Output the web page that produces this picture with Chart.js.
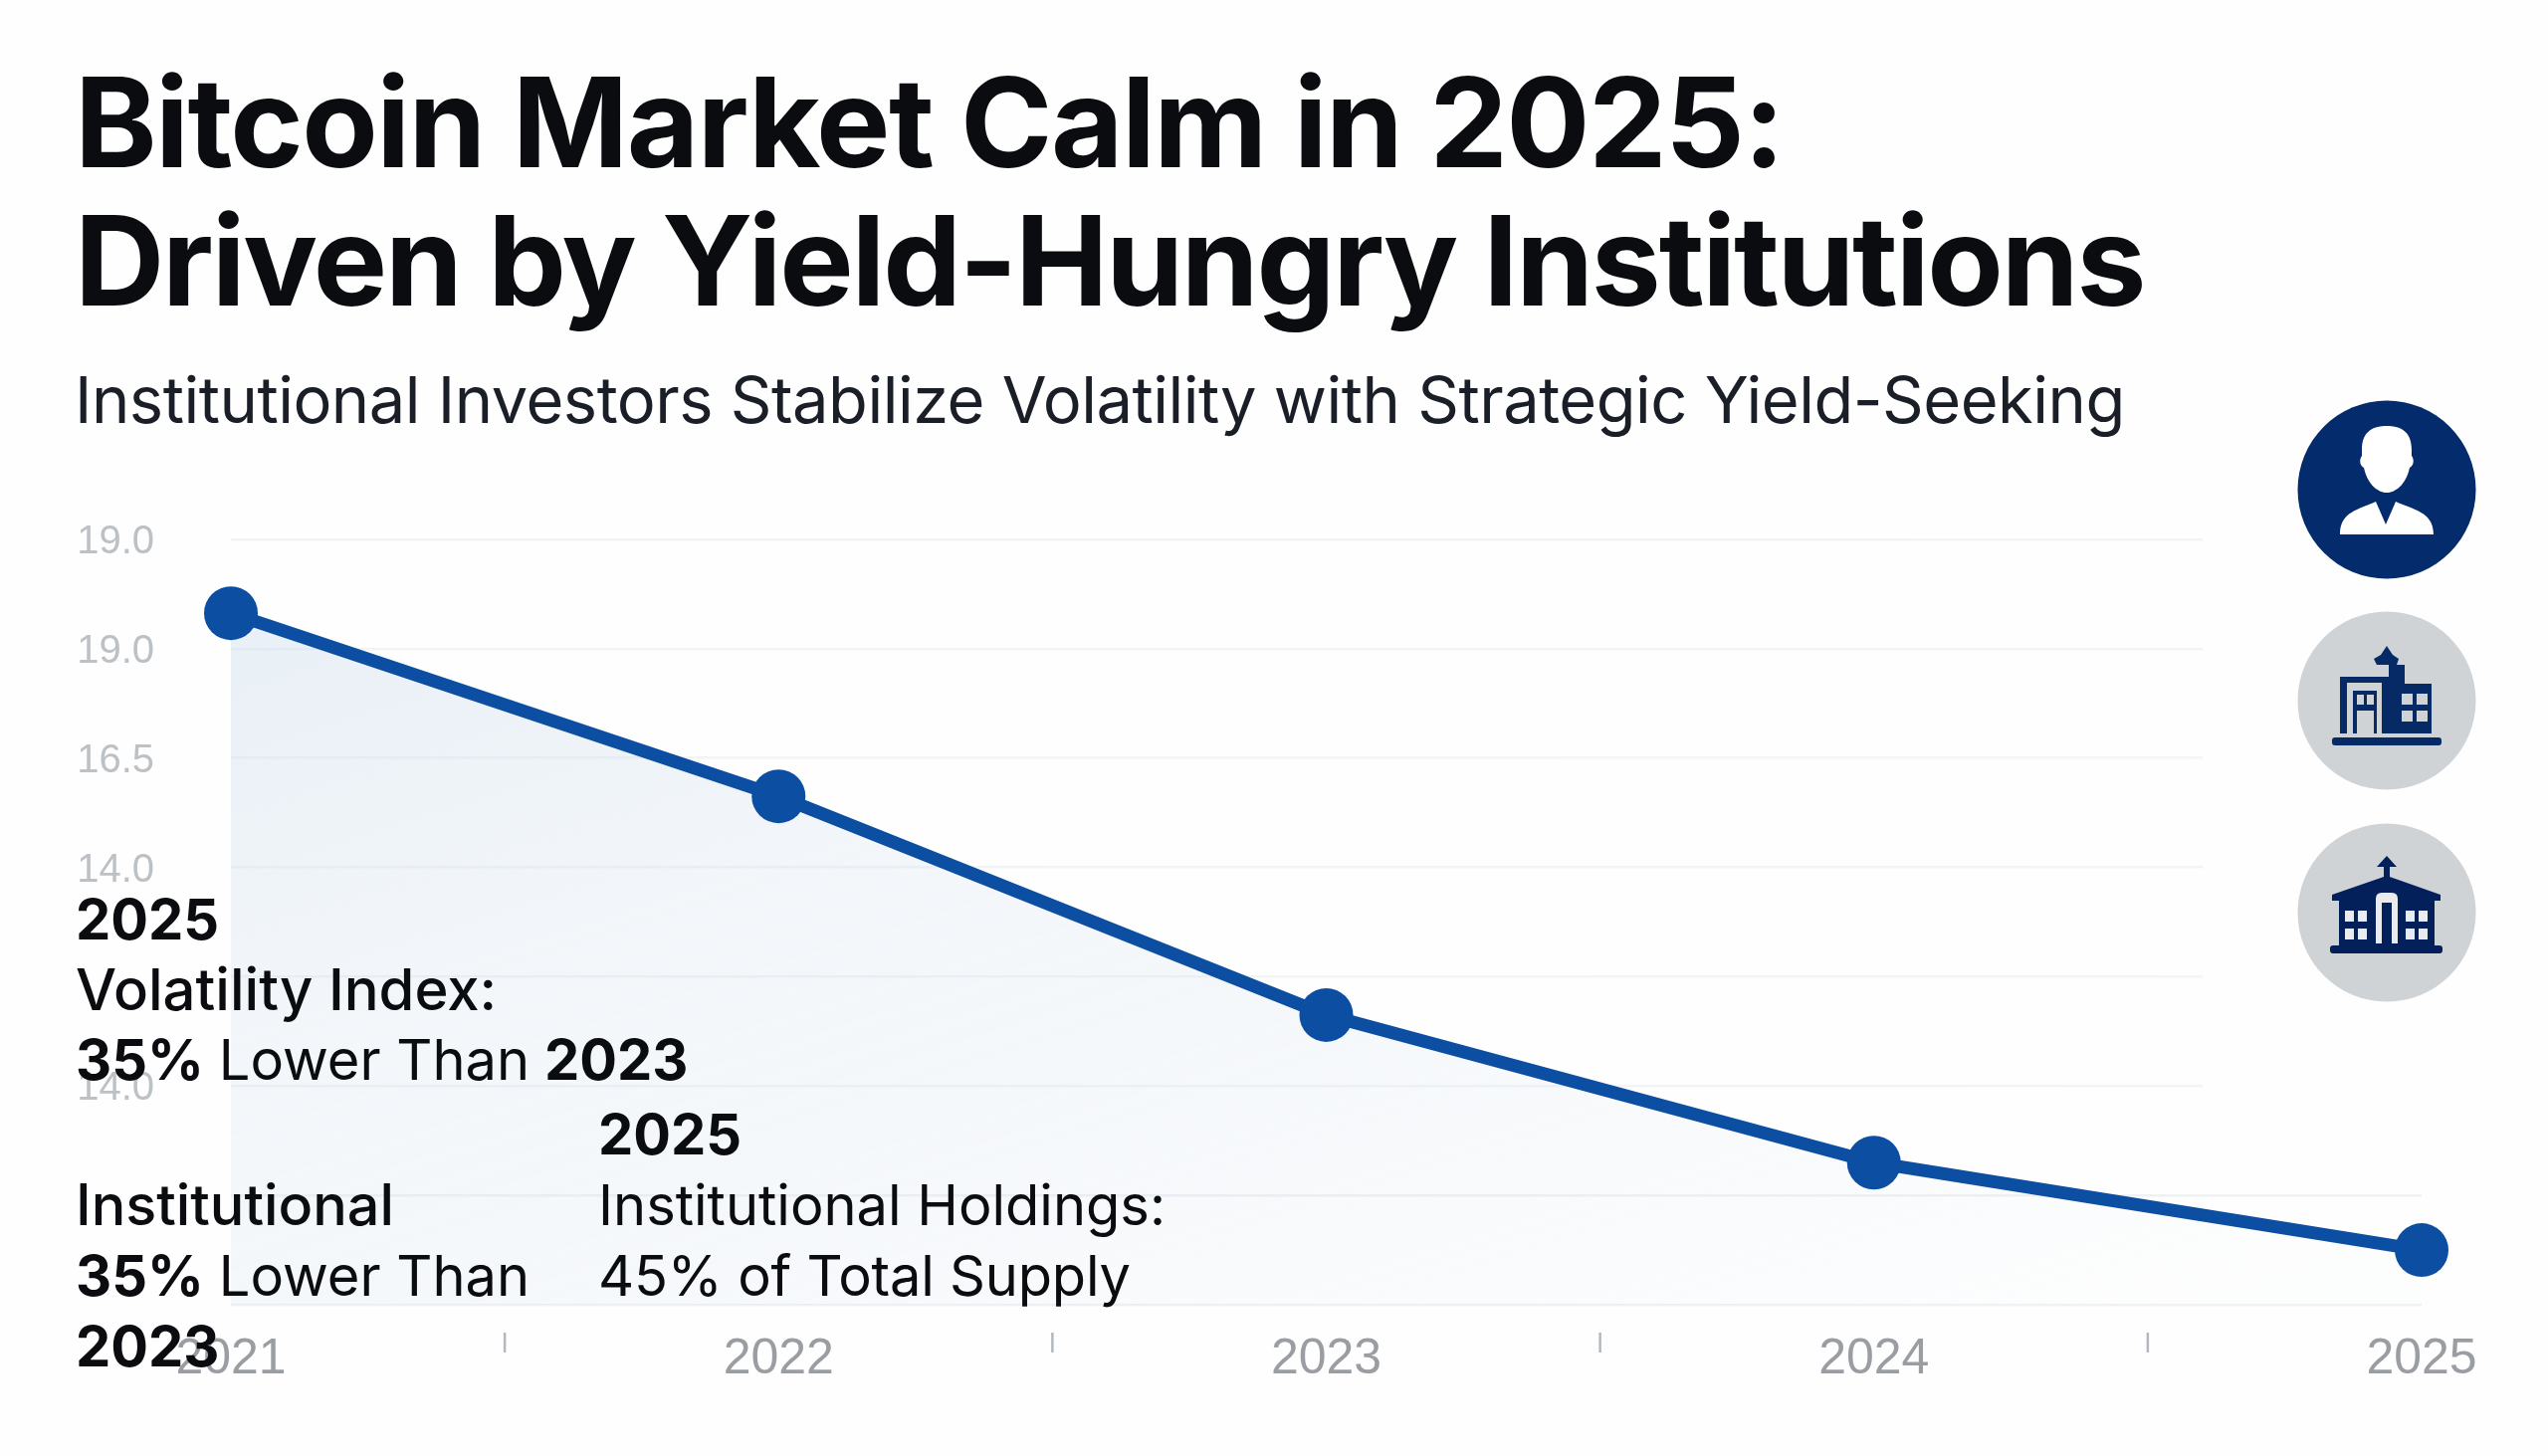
<!DOCTYPE html>
<html>
<head>
<meta charset="utf-8">
<title>Bitcoin Market Calm in 2025</title>
<script src="https://cdn.jsdelivr.net/npm/chart.js@4"></script>
<style>
    html, body { margin: 0; padding: 0; background: #fefefe; }
    #page { position: relative; width: 2560px; height: 1463px; overflow: hidden; background: #fefefe; font-family: Inter, sans-serif; color: #0a0c10; }
    canvas { position: absolute; left: 0; top: 0; }
    .txt { position: absolute; white-space: nowrap; line-height: 1; }
    .title { font-size: 125px; font-weight: 700; left: 75px; }
    .sub { font-size: 65px; font-weight: 400; left: 75px; letter-spacing: -0.5px; color: #1a1e26; }
    .note { font-size: 56px; font-weight: 500; }
    .note b { font-weight: 700; }
    .icon { position: absolute; left: 2308px; width: 180px; height: 180px; }
</style>
</head>
<body>
<div id="page">
    <canvas id="chart" width="2560" height="1463"></canvas>

    <div class="txt title" style="top: 60px; letter-spacing: -1.6px;">Bitcoin Market Calm in 2025:</div>
    <div class="txt title" style="top: 199px; letter-spacing: -2.2px;">Driven by Yield-Hungry Institutions</div>
    <div class="txt sub" style="top: 369px;">Institutional Investors Stabilize Volatility with Strategic Yield-Seeking</div>

    <div class="txt note" style="left: 76px; top: 896px;"><b>2025</b></div>
    <div class="txt note" style="left: 76px; top: 965px; font-size: 58px;">Volatility Index:</div>
    <div class="txt note" style="left: 76px; top: 1037px;"><b>35%</b> <span style="font-weight:400">Lower Than</span> <b>2023</b></div>

    <div class="txt note" style="left: 601px; top: 1112px;"><b>2025</b></div>
    <div class="txt note" style="left: 601px; top: 1183px; font-weight:400">Institutional Holdings:</div>
    <div class="txt note" style="left: 601px; top: 1254px; font-weight:400; letter-spacing: -0.2px;">45% of Total Supply</div>

    <div class="txt note" style="left: 76px; top: 1182px; font-size: 57.5px;">Institutional</div>
    <div class="txt note" style="left: 76px; top: 1254px;"><b>35%</b> <span style="font-weight:400">Lower Than</span></div>
    <div class="txt note" style="left: 76px; top: 1325px;"><b>2023</b></div>

    <!-- investor -->
    <svg class="icon" style="top: 402px;" viewBox="0 0 180 180">
        <circle cx="90" cy="90" r="89.5" fill="#042b6c"/>
        <path d="M65 50 C65 30 78 26 90 26 C102 26 115 30 115 50 L115 56 C118 60 117 66 113 68 C109 86 98 93 90 93 C82 93 71 86 67 68 C63 66 62 60 65 56 Z" fill="#fff"/>
        <path d="M43 135 C43 112 62 110 79 102 L89 125 L99 102 C116 110 137 112 137 135 Z" fill="#fff"/>
    </svg>
    <!-- office building -->
    <svg class="icon" style="top: 614px;" viewBox="0 0 180 180">
        <circle cx="90" cy="90" r="89.5" fill="#d0d3d6"/>
        <g fill="#052a66">
            <path d="M77 48 L84 44 L90 35 L96 44 L102 48 L100 54 L80 54 Z"/>
            <rect x="92" y="54" width="16" height="69"/>
            <rect x="98" y="73" width="37" height="50"/>
            <rect x="43" y="66" width="49" height="57"/>
            <rect x="35" y="127" width="110" height="8" rx="3"/>
        </g>
        <g fill="#d0d3d6">
            <rect x="50" y="72" width="35" height="51"/>
            <rect x="105" y="83" width="11" height="11"/><rect x="120" y="83" width="11" height="11"/>
            <rect x="105" y="100" width="11" height="11"/><rect x="120" y="100" width="11" height="11"/>
        </g>
        <rect x="56" y="80" width="24" height="43" fill="#052a66"/>
        <g fill="#d0d3d6">
            <rect x="60" y="84" width="7" height="10"/><rect x="70" y="84" width="7" height="10"/>
            <rect x="60" y="100" width="17" height="23"/>
        </g>
    </svg>
    <!-- bank building -->
    <svg class="icon" style="top: 827px;" viewBox="0 0 180 180">
        <circle cx="90" cy="90" r="89.5" fill="#d0d3d6"/>
        <g fill="#04205a">
            <path d="M80 44 L90 33 L100 44 L93 44 L93 54 L144 72 L144 78 L138 78 L138 125 L42 125 L42 78 L35 78 L35 72 L87 54 L87 44 Z"/>
            <rect x="33" y="123" width="113" height="8" rx="3"/>
        </g>
        <g fill="#e9ebee">
            <rect x="48" y="88" width="9" height="11"/><rect x="61" y="88" width="9" height="11"/>
            <rect x="48" y="106" width="9" height="11"/><rect x="61" y="106" width="9" height="11"/>
            <rect x="109" y="88" width="9" height="11"/><rect x="122" y="88" width="9" height="11"/>
            <rect x="109" y="106" width="9" height="11"/><rect x="122" y="106" width="9" height="11"/>
            <path d="M79 121 L79 76 Q79 70 85 70 L95 70 Q101 70 101 76 L101 121 L95 121 L95 80 L85 80 L85 121 Z"/>
        </g>
    </svg>
</div>

<script>
// --- Data ---
const years = ['2021', '2022', '2023', '2024', '2025'];
const volatility = [17.65, 14.3, 10.3, 7.6, 6.0];
const yTicks = [19, 17, 15, 13, 11, 9, 7, 5];
const yTickLabels = ['19.0', '19.0', '16.5', '14.0', '', '14.0', '', ''];

// small marks half way between the year labels
const midMarks = {
    id: 'midMarks',
    afterDraw(chart) {
        const { ctx, scales: { x } } = chart;
        ctx.save();
        ctx.strokeStyle = '#b4b8bc';
        ctx.lineWidth = 2.5;
        for (let i = 0; i < years.length - 1; i++) {
            const px = (x.getPixelForValue(i) + x.getPixelForValue(i + 1)) / 2;
            ctx.beginPath();
            ctx.moveTo(px, chart.chartArea.bottom + 28);
            ctx.lineTo(px, chart.chartArea.bottom + 48);
            ctx.stroke();
        }
        ctx.restore();
    }
};

// fill is strongest top left and fades down and to the right
function areaFill(ctx) {
    const area = ctx.chart.chartArea;
    if (!area) return 'transparent';
    const g = ctx.chart.ctx.createLinearGradient(232, 616, 607, 1804);
    g.addColorStop(0, 'rgba(198,216,234,0.38)');
    g.addColorStop(0.33, 'rgba(198,216,234,0.2)');
    g.addColorStop(0.6, 'rgba(198,216,234,0.15)');
    g.addColorStop(0.85, 'rgba(198,216,234,0.07)');
    g.addColorStop(1, 'rgba(198,216,234,0.02)');
    return g;
}

// upper grid lines stop short of the last point, the two lowest run all the way
function gridColor(ctx) {
    const area = ctx.chart.chartArea;
    if (!area || ctx.tick.value < 9) return '#eff1f3';
    const g = ctx.chart.ctx.createLinearGradient(area.left, 0, area.right, 0);
    const stop = (2213 - area.left) / (area.right - area.left);
    g.addColorStop(0, '#f1f3f5');
    g.addColorStop(stop, '#f3f4f5');
    g.addColorStop(stop, 'rgba(255,255,255,0)');
    g.addColorStop(1, 'rgba(255,255,255,0)');
    return g;
}

new Chart(document.getElementById('chart'), {
    type: 'line',
    plugins: [midMarks],
    data: {
        labels: years,
        datasets: [{
            data: volatility,
            borderColor: '#0b4ea2',
            borderWidth: 13,
            pointRadius: 27,
            pointBackgroundColor: '#0b4ea2',
            pointBorderWidth: 0,
            tension: 0,
            clip: false,
            fill: 'start',
            backgroundColor: areaFill
        }]
    },
    options: {
        responsive: false,
        animation: false,
        layout: { padding: { left: 78, right: 127, top: 542, bottom: 0 } },
        plugins: { legend: { display: false }, tooltip: { enabled: false } },
        scales: {
            x: {
                afterFit: (s) => { s.height = 152; },
                grid: { display: false },
                border: { display: false },
                ticks: {
                    padding: 17,
                    autoSkip: false,
                    maxRotation: 0,
                    color: '#9a9ea3',
                    font: { family: 'Liberation Sans', size: 50 }
                }
            },
            y: {
                min: 5,
                max: 19,
                afterFit: (s) => { s.width = 154; },
                afterBuildTicks: (s) => { s.ticks = yTicks.map((v) => ({ value: v })); },
                grid: { color: gridColor, lineWidth: 2.5, drawTicks: false },
                border: { display: false },
                ticks: {
                    padding: 77,
                    labelOffset: 3,
                    color: '#bcc1c6',
                    font: { family: 'Liberation Sans', size: 40 },
                    callback: (v) => yTickLabels[yTicks.indexOf(v)]
                }
            }
        }
    }
});
</script>
</body>
</html>
